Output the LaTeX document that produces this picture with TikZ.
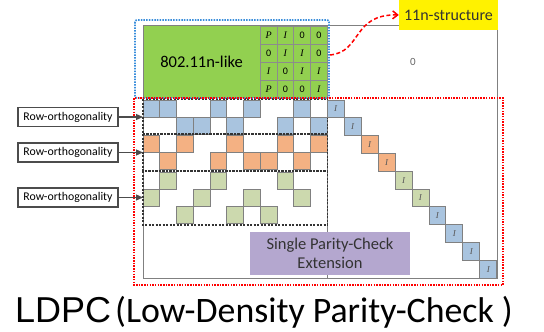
\documentclass[tikz,border=0pt]{standalone}
\usepackage{fontspec}
\setmainfont{Carlito}
\newfontfamily\serfont{Liberation Serif}
\newfontfamily\arialfont{Liberation Sans}
\usetikzlibrary{arrows.meta,positioning}

\definecolor{cblue}{HTML}{A9C4DF}
\definecolor{corange}{HTML}{F4B183}
\definecolor{cgreen}{HTML}{CCD9AE}
\definecolor{lgreen}{HTML}{92D050}
\definecolor{lpurple}{HTML}{B4A7CF}
\definecolor{gridgray}{HTML}{808080}
\definecolor{dotblue}{HTML}{3A8EDB}

\newcommand\mi[1]{{\serfont\itshape #1}}
% one cell of the lifted matrix: column, top row, colour
\newcommand\blk[3]{\filldraw[cellbox,fill=#3] ({143+16.75*#1},#2) rectangle ++(16.75,17);}

\tikzset{
  cellbox/.style={draw=gridgray,line width=0.8pt},
  groupbox/.style={draw=black!80,line width=1.3pt,dash pattern=on 2pt off 1.5pt},
  dotbox/.style={line width=1.7pt,dash pattern=on 1.5pt off 1.2pt},
  labelbox/.style={draw=black!70,line width=1.6pt,fill=white,font=\fontsize{11.8}{12}\selectfont,
    minimum width=100pt,minimum height=19pt,inner sep=1pt},
  idcell/.style={cellbox,minimum width=16.95pt,minimum height=17.8pt,inner sep=0pt,
    text=black!65,font=\fontsize{9}{9}\selectfont},
  pcell/.style={draw=black!45,line width=0.6pt,minimum width=16.75pt,minimum height=18pt,
    inner sep=0pt,font=\fontsize{10}{10}\selectfont},
}

\begin{document}
\begin{tikzpicture}[x=1pt,y=-1pt]
    \useasboundingbox (0,0) rectangle (544,332);
    % base matrix
    \fill[lgreen] (143,26) rectangle (327.25,98);
    \node[font=\fontsize{16.5}{18}\selectfont] (nlike) at (201.5,62) {802.11n-like};
    \foreach \r/\a/\b/\c/\d in {0/\mi{P}/\mi{I}/0/0, 1/0/\mi{I}/\mi{I}/0, 2/\mi{I}/0/\mi{I}/\mi{I}, 3/\mi{P}/0/0/\mi{I}} {
        \node[pcell] (p\r a) at ({268.6+16.75*0},{35+18*\r}) {\a};
        \node[pcell] (p\r b) at ({268.6+16.75*1},{35+18*\r}) {\b};
        \node[pcell] (p\r c) at ({268.6+16.75*2},{35+18*\r}) {\c};
        \node[pcell] (p\r d) at ({268.6+16.75*3},{35+18*\r}) {\d};
    }
    \draw[gridgray,line width=0.8pt] (143,25) rectangle (497,278);
    \draw[gridgray,line width=0.8pt] (327.25,98) -- (327.25,278);
    \node[text=black!60,font=\fontsize{11}{11}\selectfont] (zero) at (413,62) {0};

    % row groups
    \foreach \c in {0,1,4,6,9} \blk{\c}{100}{cblue};
    \foreach \c in {2,3,5,8,10} \blk{\c}{117}{cblue};
    \foreach \c in {0,2,5,8,10} \blk{\c}{135.5}{corange};
    \foreach \c in {1,4,6,7,9} \blk{\c}{152.5}{corange};
    \foreach \c in {1,4,8} \blk{\c}{172}{cgreen};
    \foreach \c in {0,3,6,9} \blk{\c}{189}{cgreen};
    \foreach \c in {2,5,7} \blk{\c}{206}{cgreen};
    \draw[groupbox] (143,99) rectangle (327.25,134);
    \draw[groupbox] (143,134) rectangle (327.25,171);
    \draw[groupbox] (143,171) rectangle (327.25,225);

    % identity staircase
    \foreach \k/\col in {0/cblue,1/cblue,2/corange,3/corange,4/cgreen,5/cgreen,6/cblue,7/cblue,8/cblue,9/cblue}
        \node[idcell,fill=\col] (id\k) at ({335.7+16.95*\k},{108.9+17.8*\k}) {\mi{I}};

    \node[fill=lpurple,minimum width=160pt,minimum height=43pt,align=center,text=black!80,
        font=\fontsize{16.5}{18.5}\selectfont] (spc) at (330,253.5) {Single Parity-Check\\Extension};

    % dotted frames
    \draw[dotblue,dotbox,rounded corners=2pt] (135,20) rectangle (329,98);
    \draw[red,dotbox] (134,98) rectangle (503,285);

    % 11n-structure label
    \node[fill=yellow,minimum width=99pt,minimum height=30pt,text=black!80,
        font=\fontsize{16}{16}\selectfont] (yl) at (448.5,15) {11n-structure};
    \coordinate (ms) at (330,55);
    \draw[red,line width=1.5pt,dash pattern=on 4pt off 2.5pt,-{Straight Barb[length=5pt,width=8pt]}]
        (ms) .. controls (362,52) and (352,14) .. (yl.west);

    % row-orthogonality labels
    \node[labelbox] (ro1) at (68,117) {Row-orthogonality};
    \node[labelbox] (ro2) at (68,152.5) {Row-orthogonality};
    \node[labelbox] (ro3) at (68,197.5) {Row-orthogonality};
    \coordinate (rt1) at (143,117);
    \coordinate (rt2) at (143,152.5);
    \coordinate (rt3) at (143,197.5);
    \foreach \i in {1,2,3}
        \draw[black!70,line width=1.2pt,-{Triangle[length=7pt,width=6pt]}] (ro\i) -- (rt\i);

    % caption
    \node[anchor=base west,inner sep=0pt] (cap) at (15,322)
        {\fontsize{36}{36}\selectfont\arialfont LDPC\hspace{4pt}\fontsize{35.8}{36}\selectfont\normalfont(Low-Density Parity-Check )};
\end{tikzpicture}
\end{document}
